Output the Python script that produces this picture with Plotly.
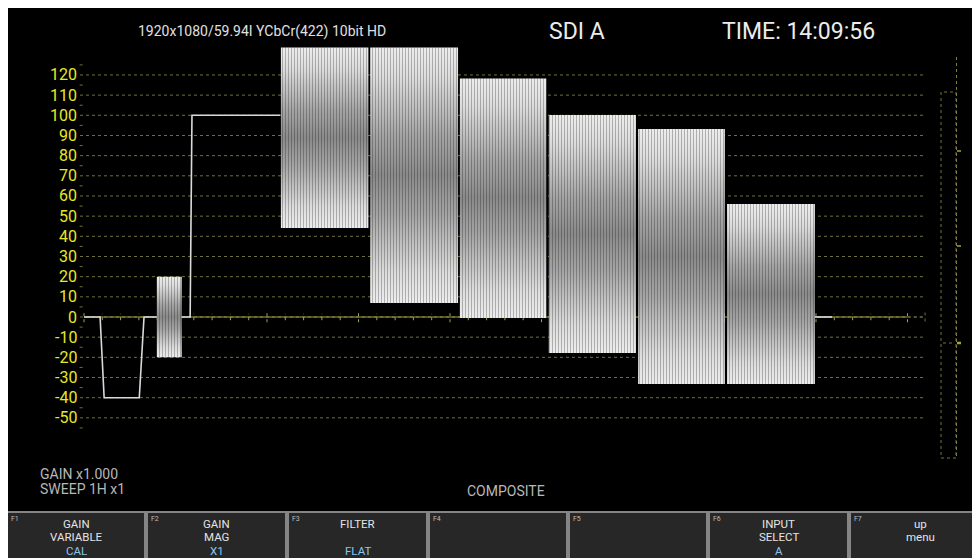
import plotly.graph_objects as go

# ---------------- data ----------------
# horizontal axis: time within the line (µs); vertical axis: IRE
y_ticks = [120, 110, 100, 90, 80, 70, 60, 50, 40, 30, 20, 10, 0, -10, -20, -30, -40, -50]

# sync / blanking / white reference trace
wave_t = [0.0, 0.44, 0.55, 1.51, 1.64, 2.90, 2.95, 5.36, None, 19.97, 20.44]
wave_v = [0, 0, -40, -40, 0, 0, 100, 100, None, 0, 0]

# colour burst envelope
burst_t = [1.99, 2.67]
burst_v = [-20, 20]

# colour bars (start, end, low, high)
bar_names = ["Yellow", "Cyan", "Green", "Magenta", "Red", "Blue"]
bar_start = [5.38, 7.82, 10.27, 12.70, 15.14, 17.57]
bar_end = [7.77, 10.22, 12.63, 15.08, 17.51, 19.97]
bar_low = [44.1, 6.9, -0.5, -17.8, -33.2, -33.2]
bar_high = [133.6, 133.6, 118.3, 100.1, 93.2, 56.0]

header_left = "1920x1080/59.94I YCbCr(422) 10bit HD"
header_mid = "SDI A"
header_time = "TIME: 14:09:56"
info_lines = ["GAIN x1.000", "SWEEP 1H x1"]
mode_label = "COMPOSITE"
buttons = [
    ("F1", ["GAIN", "VARIABLE"], "CAL"),
    ("F2", ["GAIN", "MAG"], "X1"),
    ("F3", ["FILTER", ""], "FLAT"),
    ("F4", ["", ""], ""),
    ("F5", ["", ""], ""),
    ("F6", ["INPUT", "SELECT"], "A"),
    ("F7", ["up", "menu"], ""),
]

# ---------------- layout helpers ----------------
OFF = 8  # page body margin
W, H = 980 - OFF, 558 - OFF
def PX(p):
    return (p - OFF) / W
def PY(p):
    return 1 - (p - OFF) / H

FONT = "Roboto, Liberation Sans, Arial, sans-serif"
GRID = "#72723a"
YEL = "#e8e826"

# screen mapping: t = (px - 84)/36.6 ; v = (317 - py)/2.017
XR = [(OFF - 84) / 36.6, (OFF + W - 84) / 36.6]
YR = [(317 - (OFF + H)) / 2.017, (317 - OFF) / 2.017]

fig = go.Figure()
shapes = []
annotations = []

# graticule lines (dotted)
for v in y_ticks:
    shapes.append(dict(type="line", xref="x", yref="y", x0=-0.11, x1=22.98, y0=v, y1=v,
                       line=dict(color=GRID, width=1, dash="dot"), layer="below"))
# minor level marks at the 5s
for v in range(-55, 130, 10):
    shapes.append(dict(type="line", xref="x", yref="y", x0=-0.12, x1=0.0, y0=v, y1=v,
                       line=dict(color=GRID, width=1, dash="dot"), layer="below"))
# zero line with time ticks
shapes.append(dict(type="line", xref="x", yref="y", x0=0, x1=22.5, y0=0, y1=0,
                   line=dict(color="#a4a448", width=1.2), layer="below"))
k = 0
while k <= 45:
    t = k * 0.5
    big = (k % 5 == 0)
    h = 2.6 if big else 1.6
    shapes.append(dict(type="line", xref="x", yref="y", x0=t, x1=t, y0=-h, y1=h,
                       line=dict(color="#a4a448", width=1, dash="dot"), layer="below"))
    k += 1
shapes.append(dict(type="line", xref="x", yref="y", x0=22.5, x1=22.98, y0=0, y1=0,
                   line=dict(color=GRID, width=1, dash="dot"), layer="below"))
shapes.append(dict(type="line", xref="x", yref="y", x0=22.98, x1=22.98, y0=-2.2, y1=2.2,
                   line=dict(color=GRID, width=1, dash="dot"), layer="below"))

# right-side level meter
shapes.append(dict(type="rect", xref="paper", yref="paper", x0=PX(941), x1=PX(956), y0=PY(458), y1=PY(92),
                   line=dict(color=GRID, width=1, dash="dot"), layer="above"))
shapes.append(dict(type="line", xref="paper", yref="paper", x0=PX(956.5), x1=PX(956.5), y0=PY(456), y1=PY(56),
                   line=dict(color="#80803a", width=1, dash="dot"), layer="above"))
for yy, w in [(151, 1.5), (246, 1.5), (343, 2.5)]:
    shapes.append(dict(type="line", xref="paper", yref="paper", x0=PX(957), x1=PX(961), y0=PY(yy), y1=PY(yy),
                       line=dict(color="#a8a82c", width=w), layer="above"))
shapes.append(dict(type="line", xref="paper", yref="paper", x0=PX(943), x1=PX(955), y0=PY(343), y1=PY(343),
                   line=dict(color=GRID, width=1, dash="dot"), layer="above"))

# soft-key buttons
btn_edges = [7, 147, 288, 429, 569, 709, 850, 992]
for i, (fk, lines, val) in enumerate(buttons):
    x0, x1 = btn_edges[i], btn_edges[i + 1] - 2
    shapes.append(dict(type="rect", xref="paper", yref="paper", x0=PX(x0), x1=PX(x1), y0=PY(575), y1=PY(512),
                       fillcolor="#272727", line=dict(color="#858585", width=2), layer="above"))
    cx = (x0 + x1) / 2
    annotations.append(dict(xref="paper", yref="paper", x=PX(x0 + 2), y=PY(513), text=fk, showarrow=False,
                            xanchor="left", yanchor="top", font=dict(family=FONT, size=7, color="#bdbdbd")))
    for j, ln in enumerate(lines):
        if ln:
            annotations.append(dict(xref="paper", yref="paper", x=PX(cx), y=PY(523.5 + 13.7 * j), text=ln,
                                    showarrow=False, xanchor="center", yanchor="middle",
                                    font=dict(family=FONT, size=11.5, color="#e4e4e4")))
    if val:
        annotations.append(dict(xref="paper", yref="paper", x=PX(cx), y=PY(551), text=val,
                                showarrow=False, xanchor="center", yanchor="middle",
                                font=dict(family=FONT, size=11.5, color="#8cc4f0")))

# header texts
annotations.append(dict(xref="paper", yref="paper", x=PX(262), y=PY(31), text=header_left, showarrow=False,
                        xanchor="center", yanchor="middle", font=dict(family=FONT, size=14, color="#e0e0e0")))
annotations.append(dict(xref="paper", yref="paper", x=PX(577), y=PY(31), text=header_mid, showarrow=False,
                        xanchor="center", yanchor="middle", font=dict(family=FONT, size=23, color="#ececec")))
annotations.append(dict(xref="paper", yref="paper", x=PX(798), y=PY(31), text=header_time, showarrow=False,
                        xanchor="center", yanchor="middle", font=dict(family=FONT, size=23, color="#ececec")))
# status texts
for j, ln in enumerate(info_lines):
    annotations.append(dict(xref="paper", yref="paper", x=PX(38), y=PY(474 + 14.5 * j), text=ln, showarrow=False,
                            xanchor="left", yanchor="middle", font=dict(family=FONT, size=14, color="#b8b8b8")))
annotations.append(dict(xref="paper", yref="paper", x=PX(506), y=PY(491), text=mode_label, showarrow=False,
                        xanchor="center", yanchor="middle", font=dict(family=FONT, size=14, color="#b8b8b8")))

# y tick labels
for v in y_ticks:
    annotations.append(dict(xref="paper", yref="y", x=PX(79), y=v, text=str(v), showarrow=False,
                            xanchor="right", yanchor="middle", font=dict(family=FONT, size=16, color=YEL)))

# ---------------- traces ----------------
GRAD = [[0.0, "#f4f4f4"], [0.12, "#e2e2e2"], [0.35, "#a8a8a8"], [0.5, "#8e8e8e"],
        [0.65, "#a8a8a8"], [0.88, "#e2e2e2"], [1.0, "#f4f4f4"]]

def add_block(t0, t1, lo, hi, name):
    xs = [t0, t1, t1, t0, t0]
    ys = [lo, lo, hi, hi, lo]
    fig.add_trace(go.Scatter(x=xs, y=ys, mode="lines", fill="toself", line=dict(width=0, color="#dddddd"),
                             fillgradient=dict(type="vertical", colorscale=GRAD),
                             hoverinfo="skip", showlegend=False, name=name))
    fig.add_trace(go.Scatter(x=xs, y=ys, mode="lines", fill="toself", line=dict(width=0, color="rgba(0,0,0,0)"),
                             fillcolor="rgba(0,0,0,0)",
                             fillpattern=dict(shape="|", size=3, solidity=0.4,
                                              fgcolor="rgba(0,0,0,0.55)", bgcolor="rgba(0,0,0,0)"),
                             hoverinfo="skip", showlegend=False, name=name + " texture"))

fig.add_trace(go.Scatter(x=wave_t, y=wave_v, mode="lines", line=dict(color="#dadada", width=1.6),
                         connectgaps=False, hoverinfo="skip", showlegend=False, name="waveform"))
add_block(burst_t[0], burst_t[1], burst_v[0], burst_v[1], "Burst")
for i in range(len(bar_names)):
    add_block(bar_start[i], bar_end[i], bar_low[i], bar_high[i], bar_names[i])

fig.update_layout(
    width=W, height=H,
    margin=dict(l=0, r=0, t=0, b=0),
    paper_bgcolor="black", plot_bgcolor="black",
    xaxis=dict(range=XR, visible=False, fixedrange=True),
    yaxis=dict(range=YR, visible=False, fixedrange=True),
    shapes=shapes, annotations=annotations, showlegend=False,
)

fig.write_html("out.html")
